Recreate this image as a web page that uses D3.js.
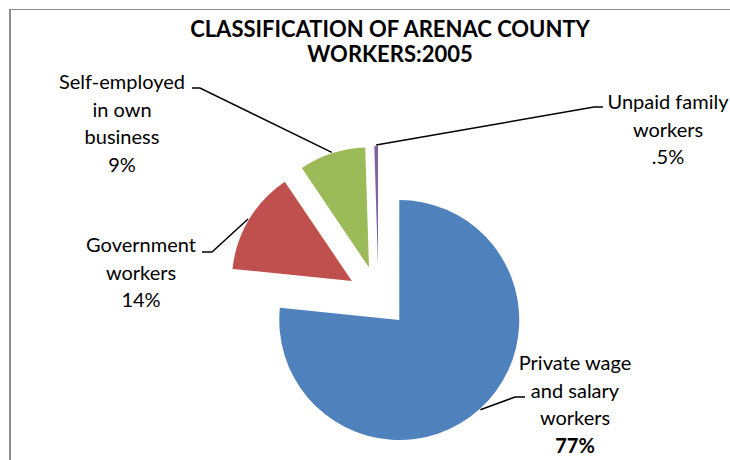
<!DOCTYPE html>
<html>
<head>
<meta charset="utf-8">
<script src="https://cdn.jsdelivr.net/npm/d3@7"></script>
<style>
  html, body { margin: 0; padding: 0; background: #fff; }
  svg { display: block; }
  text { font-family: Lato, "Open Sans", sans-serif; fill: #000; }
</style>
</head>
<body>
<svg id="chart" width="730" height="460"></svg>
<script>
// ---- data ----
const categories = ["Private wage and salary workers", "Government workers", "Self-employed in own business", "Unpaid family workers"];
const values = [77, 14, 9, 0.5];
const valueLabels = ["77%", "14%", "9%", ".5%"];
const labelLines = [
  ["Private wage", "and salary", "workers"],
  ["Government", "workers"],
  ["Self-employed", "in own", "business"],
  ["Unpaid family", "workers"]
];
const colors = ["#4F81BD", "#C0504D", "#9BBB59", "#8064A2"];
const titleLines = ["CLASSIFICATION OF ARENAC COUNTY", "WORKERS:2005"];

// ---- layout ----
const W = 730, H = 460;
const cx = 378.5, cy = 297, R = 120, explode = 31;
const lineH = 27.5;
const labelFont = 20;
// label anchor (center x, first baseline y) and leader elbow points
const labelLayout = [
  { x: 575, y: 370, elbowFrom: [525, 397], elbowTo: [515, 397] },
  { x: 141, y: 252, elbowFrom: [202, 252], elbowTo: [212, 252] },
  { x: 122, y: 89,  elbowFrom: [192, 88],  elbowTo: [200, 88] },
  { x: 668, y: 109, elbowFrom: [603, 107], elbowTo: [594, 107] }
];

const svg = d3.select("#chart");
svg.append("rect").attr("width", W).attr("height", H).attr("fill", "#fff");

// chart border (only top and left visible)
svg.append("line").attr("x1", 9).attr("y1", 9.5).attr("x2", W).attr("y2", 9.5)
  .attr("stroke", "#8c8c8c").attr("stroke-width", 1);
svg.append("line").attr("x1", 10).attr("y1", 9).attr("x2", 10).attr("y2", H)
  .attr("stroke", "#8c8c8c").attr("stroke-width", 2);

// title
svg.append("g").selectAll("text").data(titleLines).join("text")
  .attr("x", 390).attr("y", (d, i) => 37 + i * 24.5)
  .attr("text-anchor", "middle")
  .attr("font-weight", "bold")
  .attr("font-size", 22)
  .text(d => d);

const pie = d3.pie().sort(null).startAngle(0).endAngle(2 * Math.PI).value(d => d);
const arcs = pie(values);
const arc = d3.arc().innerRadius(0).outerRadius(R);

function offsetOf(a) {
  const m = (a.startAngle + a.endAngle) / 2;
  return [cx + explode * Math.sin(m), cy - explode * Math.cos(m)];
}

const g = svg.append("g");
g.selectAll("path").data(arcs).join("path")
  .attr("transform", d => { const o = offsetOf(d); return `translate(${o[0]},${o[1]})`; })
  .attr("d", arc)
  .attr("fill", (d, i) => colors[i]);

// leader lines
arcs.forEach((a, i) => {
  const o = offsetOf(a);
  const m = (a.startAngle + a.endAngle) / 2;
  const p = [o[0] + (R + 1) * Math.sin(m), o[1] - (R + 1) * Math.cos(m)];
  const L = labelLayout[i];
  svg.append("path")
    .attr("d", d3.line()([L.elbowFrom, L.elbowTo, p]))
    .attr("fill", "none").attr("stroke", "#000").attr("stroke-width", 1.5);
});

// labels
arcs.forEach((a, i) => {
  const L = labelLayout[i];
  const t = svg.append("text").attr("text-anchor", "middle").attr("font-size", labelFont);
  const lines = labelLines[i].concat([valueLabels[i]]);
  lines.forEach((ln, j) => {
    t.append("tspan").attr("x", L.x).attr("y", L.y + j * lineH)
      .attr("font-weight", (i === 0 && j === lines.length - 1) ? "bold" : "normal")
      .text(ln);
  });
});
</script>
</body>
</html>
